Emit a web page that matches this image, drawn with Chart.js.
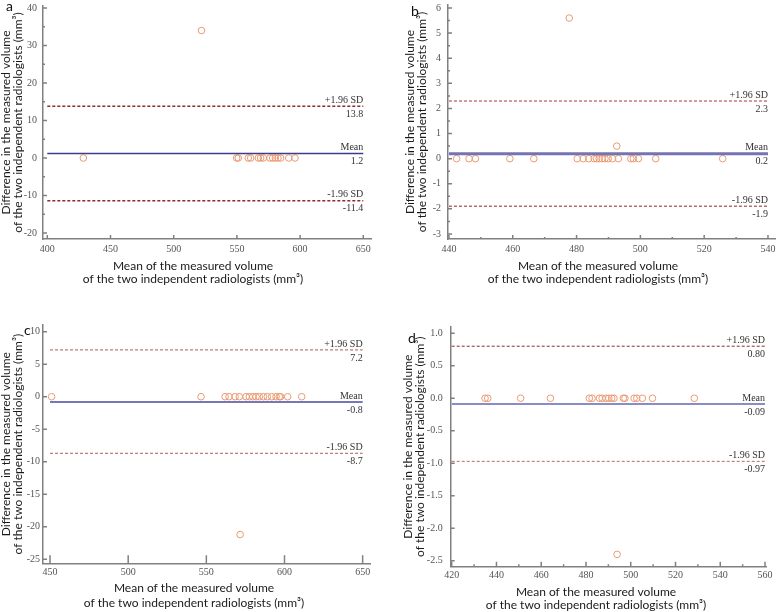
<!DOCTYPE html>
<html>
<head>
<meta charset="utf-8">
<script src="https://cdn.jsdelivr.net/npm/chart.js@4.4.0/dist/chart.umd.min.js"></script>
<style>
  html, body { margin: 0; padding: 0; background: #fff; width: 777px; height: 612px; overflow: hidden; }
  canvas { position: absolute; }
  .tag { position: absolute; font: 14px Lato, sans-serif; color: #111; line-height: 16px; }
</style>
</head>
<body>
<canvas id="pa" width="386" height="300" style="left:0;top:0"></canvas>
<canvas id="pb" width="396" height="300" style="left:400px;top:0"></canvas>
<canvas id="pc" width="388" height="312" style="left:0;top:300px"></canvas>
<canvas id="pd" width="392" height="312" style="left:400px;top:300px"></canvas>
<div class="tag" style="left:6px;top:-2px">a</div>
<div class="tag" style="left:411px;top:3px">b</div>
<div class="tag" style="left:24px;top:322px">c</div>
<div class="tag" style="left:408px;top:330px">d</div>
<script>
const xTitle = ['Mean of the measured volume', 'of the two independent radiologists (mm³)'];
const yTitle = ['Difference in the measured volume', 'of the two independent radiologists (mm³)'];
const limitNames = ['+1.96 SD', 'Mean', '-1.96 SD'];

// a
const meanA = [428.5, 522, 549.8, 551.1, 559, 560.9, 567, 568.8, 570.9, 576.2, 578.3, 580.4, 582.5, 584.6, 591, 596];
const diffA = [0, 34, 0, 0, 0, 0, 0, 0, 0, 0, 0, 0, 0, 0, 0, 0];
const limitsA = [13.8, 1.2, -11.4];
const limitTextA = ['13.8', '1.2', '-11.4'];
const xTicksA = [400, 450, 500, 550, 600, 650];
const yTicksA = [-20, -10, 0, 10, 20, 30, 40];
const minorYA = [35, 25, 15, 5, -5, -15];

// b
const meanB = [442.4, 446.3, 448.3, 459.1, 466.6, 477.7, 480.2, 482.1, 483.8, 485.5, 486.3, 487.1, 488, 488.9, 489.9, 491.3, 492.6, 493.1, 497, 497.8, 499.4, 504.8, 525.8];
const diffB = [0, 0, 0, 0, 0, 5.6, 0, 0, 0, 0, 0, 0, 0, 0, 0, 0, 0.5, 0, 0, 0, 0, 0, 0];
const limitsB = [2.3, 0.2, -1.9];
const limitTextB = ['2.3', '0.2', '-1.9'];
const xTicksB = [440, 460, 480, 500, 520, 540];
const yTicksB = [-3, -2, -1, 0, 1, 2, 3, 4, 5, 6];
const minorXB = [450, 470, 490, 510, 530];
const minorYB = [5.5, 4.5, 3.5, 2.5, 1.5, 0.5, -0.5, -1.5, -2.5];

// c
const meanC = [451, 546.6, 562, 564.5, 568.4, 571.1, 571.6, 575.4, 577.5, 579.7, 581.8, 583.9, 586.5, 589, 591.8, 594.6, 596.7, 597.5, 602, 611];
const diffC = [0, 0, 0, 0, 0, 0, -21.2, 0, 0, 0, 0, 0, 0, 0, 0, 0, 0, 0, 0, 0];
const limitsC = [7.2, -0.8, -8.7];
const limitTextC = ['7.2', '-0.8', '-8.7'];
const xTicksC = [450, 500, 550, 600, 650];
const yTicksC = [-25, -20, -15, -10, -5, 0, 5, 10];

// d
const meanD = [434.9, 436.1, 450.8, 464.1, 481.5, 482.7, 486, 487.2, 488.9, 490.2, 491.5, 492.5, 493.9, 496.7, 497.4, 501.5, 502.7, 505.2, 509.7, 528.4];
const diffD = [0, 0, 0, 0, 0, 0, 0, 0, 0, 0, 0, 0, -2.4, 0, 0, 0, 0, 0, 0, 0];
const limitsD = [0.80, -0.09, -0.97];
const limitTextD = ['0.80', '-0.09', '-0.97'];
const xTicksD = [420, 440, 460, 480, 500, 520, 540, 560];
const yTicksD = [-2.5, -2.0, -1.5, -1.0, -0.5, 0.0, 0.5, 1.0];
const minorXD = [430, 450, 470, 490, 510, 530, 550];

const axisGrey = '#808080';
const serif = "'Liberation Serif', 'DejaVu Serif', serif";

// limit labels + inward tick marks
const baPlugin = {
  id: 'ba',
  afterDraw(chart, args, o) {
    const {ctx, chartArea: ca, scales: {x, y}} = chart;
    ctx.save();
    ctx.strokeStyle = axisGrey;
    ctx.lineWidth = 1.5;
    ctx.beginPath();
    x.ticks.forEach(t => { const px = x.getPixelForValue(t.value); ctx.moveTo(px, ca.bottom); ctx.lineTo(px, ca.bottom - o.tickX); });
    o.minorX.forEach(v => { const px = x.getPixelForValue(v); ctx.moveTo(px, ca.bottom); ctx.lineTo(px, ca.bottom - o.tickX / 2); });
    y.ticks.forEach(t => { const py = y.getPixelForValue(t.value); ctx.moveTo(ca.left, py); ctx.lineTo(ca.left + 4, py); });
    o.minorY.forEach(v => { const py = y.getPixelForValue(v); ctx.moveTo(ca.left, py); ctx.lineTo(ca.left + 2, py); });
    ctx.stroke();

    ctx.font = '10px ' + serif;
    ctx.fillStyle = '#333';
    ctx.textAlign = 'right';
    const xr = x.getPixelForValue(o.end);
    o.limits.forEach((v, i) => {
      const py = y.getPixelForValue(v);
      ctx.textBaseline = 'bottom';
      ctx.fillText(limitNames[i], xr, py - 1);
      ctx.textBaseline = 'top';
      ctx.fillText(o.text[i], xr, py + 3);
    });
    ctx.restore();
  }
};

function panel(id, c) {
  const hline = (v, color, width, dash) => ({
    type: 'line',
    data: [{x: c.xTicks[0], y: v}, {x: c.xTicks[c.xTicks.length - 1], y: v}],
    borderColor: color, borderWidth: width, borderDash: dash,
    pointRadius: 0, fill: false
  });
  return new Chart(document.getElementById(id), {
    type: 'scatter',
    data: {
      datasets: [
        hline(c.limits[0], c.sdColor[0], c.sdWidth, [3, 2]),
        hline(c.limits[1], c.meanColor, c.meanWidth, []),
        hline(c.limits[2], c.sdColor[1], c.sdWidth, [3, 2]),
        {
          data: c.xs.map((v, i) => ({x: v, y: c.ys[i]})),
          pointRadius: 3.3, pointBorderWidth: 1,
          borderColor: '#ea9a72', backgroundColor: 'rgba(255,255,255,0)'
        }
      ]
    },
    options: {
      responsive: false,
      animation: false,
      layout: {padding: {top: c.top}},
      plugins: {
        legend: {display: false},
        tooltip: {enabled: false},
        title: {
          display: true, position: 'bottom', text: xTitle, color: '#1a1a1a',
          font: {family: 'Lato', size: 12, weight: 'normal', lineHeight: c.titleLh},
          padding: c.titlePad
        },
        ba: {limits: c.limits, text: c.limitText, end: c.xTicks[c.xTicks.length - 1],
             minorX: c.minorX || [], minorY: c.minorY || [], tickX: c.tickX}
      },
      scales: {
        x: {
          type: 'linear', min: c.xRange[0], max: c.xRange[1],
          grid: {display: false, drawTicks: false},
          border: {color: axisGrey, width: 1.5},
          ticks: {font: {family: serif, size: 10}, color: '#555', padding: c.xPad, maxRotation: 0},
          afterBuildTicks: s => { s.ticks = c.xTicks.map(v => ({value: v})); },
          afterFit: s => { s.height = c.xh; s.paddingLeft = 0; s.paddingRight = c.padR; s.paddingTop = 0; s.paddingBottom = 0; }
        },
        y: {
          type: 'linear', min: c.yRange[0], max: c.yRange[1],
          grid: {display: false, drawTicks: false},
          border: {color: axisGrey, width: 1.5},
          ticks: {font: {family: serif, size: 10}, color: '#555', padding: c.yPad,
                  callback: v => v.toFixed(c.yDec)},
          title: {display: true, text: yTitle, color: '#1a1a1a',
                  font: {family: 'Lato', size: 12, lineHeight: 1}, padding: {top: c.yTitlePad, bottom: 0}},
          afterBuildTicks: s => { s.ticks = c.yTicks.map(v => ({value: v})); },
          afterFit: s => { s.width = c.yw; s.paddingTop = 0; s.paddingBottom = 0; s.paddingLeft = 0; s.paddingRight = 0; }
        }
      }
    },
    plugins: [baPlugin]
  });
}

panel('pa', {
  xs: meanA, ys: diffA, limits: limitsA, limitText: limitTextA, xTicks: xTicksA, yTicks: yTicksA, minorY: minorYA,
  xRange: [396.6, 656.1], yRange: [-21.6, 40.53], yDec: 0,
  sdColor: ['#8e2b2b', '#8e2b2b'], sdWidth: 1.5, meanColor: '#3c3c8a', meanWidth: 1.5,
  top: 6, yw: 43, padR: 15, xh: 20, xPad: 4, yPad: 6, tickX: 4, yTitlePad: 0,
  titleLh: 1.05, titlePad: {top: 1, bottom: 14.8}
});
panel('pb', {
  xs: meanB, ys: diffB, limits: limitsB, limitText: limitTextB, xTicks: xTicksB, yTicks: yTicksB, minorX: minorXB, minorY: minorYB,
  xRange: [439.7, 542.2], yRange: [-3.2, 6.12], yDec: 0,
  sdColor: ['#c47a7a', '#b86a6a'], sdWidth: 1.5, meanColor: '#7474b4', meanWidth: 3,
  top: 5, yw: 48, padR: 21, xh: 20, xPad: 4, yPad: 7, tickX: 4, yTitlePad: 4,
  titleLh: 1.05, titlePad: {top: 1, bottom: 14.8}
});
panel('pc', {
  xs: meanC, ys: diffC, limits: limitsC, limitText: limitTextC, xTicks: xTicksC, yTicks: yTicksC,
  xRange: [445.5, 654.7], yRange: [-25.62, 11.03], yDec: 0,
  sdColor: ['#b05858', '#b05858'], sdWidth: 1, meanColor: '#4848a0', meanWidth: 1.5,
  top: 25, yw: 43, padR: 18, xh: 16, xPad: 3, yPad: 3, tickX: 8, yTitlePad: 0,
  titleLh: 1.25, titlePad: {top: 1.2, bottom: 1.5}
});
panel('pd', {
  xs: meanD, ys: diffD, limits: limitsD, limitText: limitTextD, xTicks: xTicksD, yTicks: yTicksD, minorX: minorXD,
  xRange: [419.55, 560.75], yRange: [-2.59, 1.10], yDec: 1,
  sdColor: ['#8e2b2b', '#b86a6a'], sdWidth: 1, meanColor: '#8c8cc4', meanWidth: 2,
  top: 26.7, yw: 50.7, padR: 25.3, xh: 16, xPad: 3, yPad: 8, tickX: 5, yTitlePad: 2,
  titleLh: 1.083, titlePad: {top: 2.5, bottom: 0.8}
});
</script>
</body>
</html>
